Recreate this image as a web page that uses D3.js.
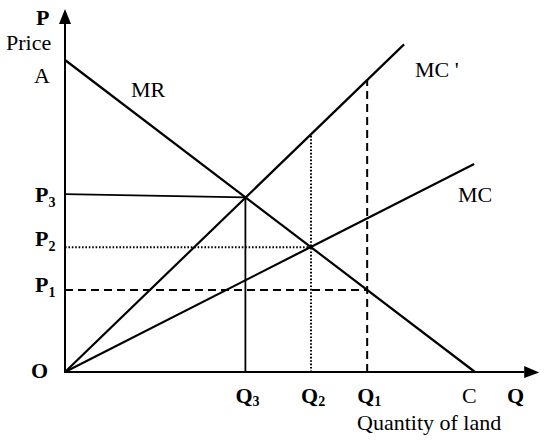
<!DOCTYPE html>
<html>
<head>
<meta charset="utf-8">
<script src="https://cdn.jsdelivr.net/npm/d3@7"></script>
<style>
  body { margin: 0; background: #fff; }
  text { font-family: "Liberation Serif", "DejaVu Serif", serif; fill: #000; }
</style>
</head>
<body>
<div id="chart"></div>
<script>
// quantities on the x axis (Q3, Q2, Q1) and the matching prices (P3, P2, P1)
const qNames = ["3", "2", "1"];
const qValues = [4.4, 6.0, 7.37];
const pNames = ["3", "2", "1"];
const pValues = [5.7, 4.0, 2.63];

// curves, end points in chart units
const curveNames = ["MR", "MC '", "MC"];
const curvePoints = [
  [[0, 10], [10, 0]],
  [[0, 0], [8.27, 10.5]],
  [[0, 0], [9.98, 6.67]]
];

// guide lines: solid for Q3/P3, dotted for Q2/P2, dashed for Q1/P1
const guideStyles = ["solid", "solid", "dotted", "dotted", "dashed", "dashed"];
const guidePoints = [
  [[0, 5.7], [4.4, 5.6]],
  [[4.4, 0], [4.4, 5.6]],
  [[0, 4.0], [6.0, 4.0]],
  [[6.0, 0], [6.0, 7.62]],
  [[0, 2.63], [7.37, 2.63]],
  [[7.37, 0], [7.37, 9.36]]
];

let width = 550, height = 447;

let svg = d3.select("#chart").append("svg")
    .attr("width", width)
    .attr("height", height);

let x = d3.scaleLinear().domain([0, 10]).range([65, 475]);
let y = d3.scaleLinear().domain([0, 10]).range([372, 60]);

let line = d3.line().x(d => x(d[0])).y(d => y(d[1]));

// axes with arrow heads
let xEnd = 11.2, yEnd = 11.15;
svg.append("path")
    .attr("d", line([[0, yEnd], [0, 0], [xEnd, 0]]))
    .attr("fill", "none")
    .attr("stroke", "#000")
    .attr("stroke-width", 2);

svg.append("path")
    .attr("d", `M${x(0) - 6},${y(yEnd)} L${x(0)},${y(yEnd) - 15} L${x(0) + 6},${y(yEnd)} Z`)
    .attr("fill", "#000");
svg.append("path")
    .attr("d", `M${x(xEnd)},${y(0) - 6} L${x(xEnd) + 15},${y(0) + 0.5} L${x(xEnd)},${y(0) + 6} Z`)
    .attr("fill", "#000");

// guide lines
let dash = { solid: null, dotted: "1.6,1.8", dashed: "8,5" };
svg.selectAll(".guide")
    .data(guidePoints)
    .enter().append("path")
    .attr("class", "guide")
    .attr("d", d => line(d))
    .attr("fill", "none")
    .attr("stroke", "#000")
    .attr("stroke-width", (d, i) => guideStyles[i] === "solid" ? 1.8 : 2)
    .attr("stroke-dasharray", (d, i) => dash[guideStyles[i]]);

// curves
svg.selectAll(".curve")
    .data(curvePoints)
    .enter().append("path")
    .attr("class", "curve")
    .attr("d", d => line(d))
    .attr("fill", "none")
    .attr("stroke", "#000")
    .attr("stroke-width", 2.2);

// curve labels
let curveLabelPos = [[131, 97], [415, 77], [458, 202]];
svg.selectAll(".curve-label")
    .data(curveNames)
    .enter().append("text")
    .attr("x", (d, i) => curveLabelPos[i][0])
    .attr("y", (d, i) => curveLabelPos[i][1])
    .style("font-size", "22px")
    .text(d => d);

// price labels
let pLabelDy = [8, -1, 2];
let pLabels = svg.selectAll(".p-label")
    .data(pValues)
    .enter().append("text")
    .attr("x", 35)
    .attr("y", (d, i) => y(d) + pLabelDy[i])
    .style("font-size", "22px")
    .attr("font-weight", "bold");
pLabels.append("tspan").text("P");
pLabels.append("tspan")
    .attr("dy", 5)
    .style("font-size", "14px")
    .text((d, i) => pNames[i]);

// quantity labels
let qLabels = svg.selectAll(".q-label")
    .data(qValues)
    .enter().append("text")
    .attr("x", d => x(d) - 10)
    .attr("y", 403)
    .style("font-size", "22px")
    .attr("font-weight", "bold");
qLabels.append("tspan").text("Q");
qLabels.append("tspan")
    .attr("dy", 3)
    .style("font-size", "14px")
    .text((d, i) => qNames[i]);

// other text
svg.append("text").attr("x", 36).attr("y", 25)
    .style("font-size", "22px").attr("font-weight", "bold").text("P");
svg.append("text").attr("x", 6).attr("y", 50)
    .style("font-size", "22px").text("Price");
svg.append("text").attr("x", 34).attr("y", 83)
    .style("font-size", "22px").text("A");
svg.append("text").attr("x", 31).attr("y", 378)
    .style("font-size", "22px").attr("font-weight", "bold").text("O");
svg.append("text").attr("x", 462).attr("y", 403)
    .style("font-size", "22px").text("C");
svg.append("text").attr("x", 507).attr("y", 403)
    .style("font-size", "22px").attr("font-weight", "bold").text("Q");
svg.append("text").attr("x", 357).attr("y", 430)
    .style("font-size", "22px").text("Quantity of land");
</script>
</body>
</html>
